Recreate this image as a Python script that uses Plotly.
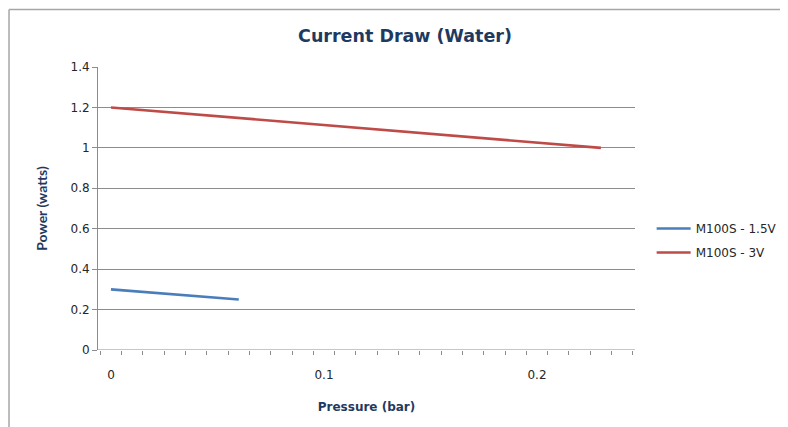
import plotly.graph_objects as go

title = "Current Draw (Water)"
x_label = "Pressure (bar)"
y_label = "Power (watts)"

s1_name = "M100S - 1.5V"
s1_x = [0.0, 0.06]
s1_y = [0.30, 0.25]

s2_name = "M100S - 3V"
s2_x = [0.0, 0.23]
s2_y = [1.20, 1.00]

x_ticks = [0, 0.1, 0.2]
x_tick_labels = ["0", "0.1", "0.2"]
y_ticks = [0, 0.2, 0.4, 0.6, 0.8, 1.0, 1.2, 1.4]
y_tick_labels = ["0", "0.2", "0.4", "0.6", "0.8", "1", "1.2", "1.4"]

wide_font = "'DejaVu Sans', sans-serif"
narrow_font = "Lato, 'Open Sans', sans-serif"
dark_blue = "#1F3A60"
axis_gray = "#8C8C8C"

fig = go.Figure()
fig.add_trace(go.Scatter(x=s1_x, y=s1_y, mode="lines", name=s1_name,
                         legendgroup="a",
                         line=dict(color="#4A7EBB", width=2.6)))
fig.add_trace(go.Scatter(x=s2_x, y=s2_y, mode="lines", name=s2_name,
                         legendgroup="b",
                         line=dict(color="#BE4B48", width=2.6)))

fig.update_layout(
    width=780, height=419,
    margin=dict(l=90, r=153, t=59, b=77, autoexpand=False),
    paper_bgcolor="white", plot_bgcolor="white",
    font=dict(family=wide_font, size=12, color="#262626"),
    title=dict(text="<b>" + title + "</b>", x=0.509, xanchor="center",
               y=0.933, yanchor="middle",
               font=dict(family=wide_font, size=17.5, color=dark_blue)),
    showlegend=True,
    legend=dict(x=1.031, xanchor="left", y=0.387, yanchor="middle",
                font=dict(family=wide_font, size=12, color="#262626"),
                traceorder="grouped", tracegroupgap=5, itemwidth=34,
                bgcolor="rgba(0,0,0,0)"),
    xaxis=dict(
        range=[-0.0061, 0.2460], tickvals=x_ticks, ticktext=x_tick_labels,
        ticks="", showgrid=False, zeroline=False, automargin=False,
        showline=False, ticklabelstandoff=16,
        title=dict(text="<b>" + x_label + "</b>", standoff=21,
                   font=dict(family=wide_font, size=12, color=dark_blue)),
        minor=dict(ticks="outside", dtick=0.01, tick0=-0.005, ticklen=4,
                   tickcolor=axis_gray, showgrid=False),
    ),
    yaxis=dict(
        range=[0, 1.4], tickvals=y_ticks, ticktext=y_tick_labels,
        ticks="outside", ticklen=5, tickcolor=axis_gray, automargin=False,
        showgrid=True, gridcolor=axis_gray, gridwidth=1,
        zeroline=False, showline=True, linecolor=axis_gray, linewidth=1,
        title=dict(text="<b>" + y_label + "</b>", standoff=19,
                   font=dict(family=narrow_font, size=14, color=dark_blue)),
    ),
)

# x axis baseline
fig.add_shape(type="line", xref="paper", yref="y", x0=0, x1=1, y0=0, y1=0,
              line=dict(color=axis_gray, width=1))
# chart frame (top and left border)
fig.add_shape(type="line", xref="paper", yref="paper",
              x0=-0.1657, x1=1.4, y0=1.203, y1=1.203,
              line=dict(color="#A6A6A6", width=1.5))
fig.add_shape(type="line", xref="paper", yref="paper",
              x0=-0.1657, x1=-0.1657, y0=-0.4, y1=1.203,
              line=dict(color="#A6A6A6", width=1.5))

fig.write_html("out.html")
